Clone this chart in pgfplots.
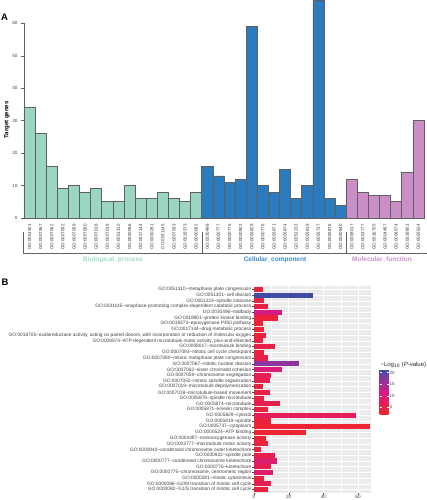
\documentclass[border=0pt]{standalone}
\usepackage{pgfplots}
\pgfplotsset{compat=1.18}
\usepackage{fontspec}
\setmainfont{Liberation Sans}
\definecolor{bpc}{RGB}{155,214,197}
\definecolor{ccc}{RGB}{42,124,191}
\definecolor{mfc}{RGB}{202,143,198}
\definecolor{bpt}{RGB}{160,218,202}
\definecolor{cct}{RGB}{58,136,199}
\definecolor{mft}{RGB}{204,140,200}
\definecolor{edge}{RGB}{95,95,95}
\definecolor{s0}{RGB}{238,37,45}
\definecolor{s1}{RGB}{230,30,82}
\definecolor{s2}{RGB}{212,28,130}
\definecolor{s3}{RGB}{150,50,158}
\definecolor{s4}{RGB}{58,78,166}
\pgfplotsset{colormap={pval}{rgb255=(238,37,45) rgb255=(230,30,82) rgb255=(212,28,130) rgb255=(150,50,158) rgb255=(58,78,166)}}
\newcommand{\tf}[1]{\fontsize{#1}{#1}\selectfont}
\newcommand{\T}{\textasciitilde}
\newcommand{\pbar}[3]{%
  \pgfmathsetmacro{\tv}{max(0,min(0.9999,(#3-1.7)/19.9))*4}%
  \pgfmathtruncatemacro{\sg}{floor(\tv)}%
  \pgfmathsetmacro{\fr}{(\tv-\sg)*100}%
  \pgfmathtruncatemacro{\sgn}{\sg+1}%
  \colorlet{bc#1}{s\sgn!\fr!s\sg}%
  \addplot[xbar, bar shift=0pt, bar width=0.9, draw=none, fill=bc#1] coordinates {(#2,#1)};}
\begin{document}
\begin{tikzpicture}
\path[use as bounding box] (0,0) rectangle (427pt,500pt);
% ---------------- Panel A ----------------
\begin{axis}[
  at={(24pt,282pt)}, anchor=south west,
  scale only axis, width=400pt, height=218pt,
  xmin=-0.5, xmax=35.5, ymin=0, ymax=67.2,
  clip=false,
  axis line style={draw=none},
  ytick={0,10,...,60}, ytick pos=left, tick align=outside,
  major tick length=3pt,
  y tick style={draw=edge, line width=0.5pt},
  yticklabel style={font=\tf{4.6}, text=black!75},
  xtick={0,...,35}, x tick style={draw=none}, xtick pos=left,
  xticklabels={GO:0051301,GO:0007067,GO:0007062,GO:0007052,GO:0007059,GO:0007080,GO:0007018,GO:0007019,GO:0051310,GO:0000086,GO:0017144,GO:0000281,GO:0031145,GO:0007093,GO:0019373,GO:0000082,
  GO:0030496,GO:0000777,GO:0000775,GO:0000922,GO:0005829,GO:0000776,GO:0005871,GO:0005874,GO:0051233,GO:0005819,GO:0005737,GO:0005876,GO:0000940,
  GO:0008017,GO:0003777,GO:0016705,GO:0004497,GO:0008574,GO:0019901,GO:0005524},
  xticklabel style={rotate=90, anchor=east, font=\tf{4.4}, text=black!80},
  /pgf/number format/assume math mode=true,
]
\addplot[ybar, bar width=1, bar shift=0pt, fill=bpc, draw=edge, line width=0.6pt] coordinates {
(0,34) (1,26) (2,16) (3,9) (4,10) (5,8) (6,9) (7,5) (8,5) (9,10) (10,6) (11,6) (12,8) (13,6) (14,5) (15,8)};
\addplot[ybar, bar width=1, bar shift=0pt, fill=ccc, draw=edge, line width=0.6pt] coordinates {
(16,16) (17,13) (18,11) (19,12) (20,59) (21,10) (22,8) (23,15) (24,6) (25,10) (26,67) (27,6) (28,4)};
\addplot[ybar, bar width=1, bar shift=0pt, fill=mfc, draw=edge, line width=0.6pt] coordinates {
(29,12) (30,8) (31,7) (32,7) (33,5) (34,14) (35,30)};
\draw[edge, line width=0.6pt] (axis cs:-0.5,0) -- (axis cs:-0.5,60);
\end{axis}
% group brackets
\draw[edge, line width=0.6pt] (23.5pt,268pt) -- (23.5pt,247pt) -- (427pt,247pt);
\draw[edge, line width=0.6pt] (202pt,268pt) -- (202pt,247pt);
\draw[edge, line width=0.6pt] (346.5pt,268pt) -- (346.5pt,247pt);
\node[font=\bfseries\tf{6.5}, text=bpt] at (113pt,240pt) {Biological\_process};
\node[font=\bfseries\tf{6.5}, text=cct] at (275pt,240pt) {Cellular\_component};
\node[font=\bfseries\tf{6.5}, text=mft] at (382pt,240pt) {Molecular\_function};
\node[rotate=90, font=\bfseries\tf{6}] at (7pt,380pt) {Target genes};
\node[font=\bfseries\tf{9.5}] at (4.5pt,482.5pt) {A};
\node[font=\bfseries\tf{9.5}] at (5pt,218pt) {B};
% ---------------- Panel B ----------------
\begin{axis}[
  at={(312.5pt,110.5pt)}, anchor=center,
  scale only axis, width=117pt, height=207pt,
  xmin=0, xmax=67.5, ymin=0.4, ymax=36.6, y dir=reverse,
  axis background/.style={fill=black!8},
  axis line style={draw=none},
  xtick={0,20,40,60}, minor xtick={10,30,50},
  ytick={1,...,36},
  yticklabels={
  {GO:0051310\T metaphase plate congression},
  {GO:0051301\T cell division},
  {GO:0051233\T spindle midzone},
  {GO:0031145\T anaphase-promoting complex-dependent catabolic process},
  {GO:0030496\T midbody},
  {GO:0019901\T protein kinase binding},
  {GO:0019373\T epoxygenase P450 pathway},
  {GO:0017144\T drug metabolic process},
  {GO:0016705\T oxidoreductase activity, acting on paired donors, with incorporation or reduction of molecular oxygen},
  {GO:0008574\T ATP-dependent microtubule motor activity, plus-end-directed},
  {GO:0008017\T microtubule binding},
  {GO:0007093\T mitotic cell cycle checkpoint},
  {GO:0007080\T mitotic metaphase plate congression},
  {GO:0007067\T mitotic nuclear division},
  {GO:0007062\T sister chromatid cohesion},
  {GO:0007059\T chromosome segregation},
  {GO:0007052\T mitotic spindle organization},
  {GO:0007019\T microtubule depolymerization},
  {GO:0007018\T microtubule-based movement},
  {GO:0005876\T spindle microtubule},
  {GO:0005874\T microtubule},
  {GO:0005871\T kinesin complex},
  {GO:0005829\T cytosol},
  {GO:0005819\T spindle},
  {GO:0005737\T cytoplasm},
  {GO:0005524\T ATP binding},
  {GO:0004497\T monooxygenase activity},
  {GO:0003777\T microtubule motor activity},
  {GO:0000940\T condensed chromosome outer kinetochore},
  {GO:0000922\T spindle pole},
  {GO:0000777\T condensed chromosome kinetochore},
  {GO:0000776\T kinetochore},
  {GO:0000775\T chromosome, centromeric region},
  {GO:0000281\T mitotic cytokinesis},
  {GO:0000086\T G2/M transition of mitotic cell cycle},
  {GO:0000082\T G1/S transition of mitotic cell cycle}},
  xmajorgrids, xminorgrids, ymajorgrids,
  major grid style={white, line width=0.5pt},
  minor grid style={white, line width=0.25pt},
  tick align=outside, major tick length=1.5pt, minor tick length=0pt,
  tick style={black!70, line width=0.3pt},
  xtick pos=left, ytick pos=left,
  yticklabel style={font=\tf{4.8}, text=black!75, inner sep=1pt},
  xticklabel style={font=\tf{4.6}, text=black!75, inner sep=1pt},
  colormap name=pval, point meta min=1.7, point meta max=21.6,
  colorbar,
  colorbar style={
    at={(parent axis.east)}, anchor=west, yshift=-2.5pt,
    scale only axis, width=9pt, height=46pt,
    ytick={5,10,15,20},
    axis line style={draw=none},
    tick align=inside, major tick length=2pt,
    tick style={white, line width=0.4pt},
    yticklabel style={font=\tf{4.5}, text=black!75, inner sep=1pt},
    /pgf/number format/assume math mode=true,
  },
  /pgf/number format/assume math mode=true,
]
\pbar{1}{5}{4.0}
\pbar{2}{34}{21.3}
\pbar{3}{6}{4.5}
\pbar{4}{8}{5.0}
\pbar{5}{16}{11.5}
\pbar{6}{14}{3.5}
\pbar{7}{5}{3.0}
\pbar{8}{6}{3.0}
\pbar{9}{7}{3.0}
\pbar{10}{5}{4.0}
\pbar{11}{12}{5.0}
\pbar{12}{6}{4.0}
\pbar{13}{8}{5.5}
\pbar{14}{26}{17.0}
\pbar{15}{16}{10.5}
\pbar{16}{10}{7.0}
\pbar{17}{9}{6.0}
\pbar{18}{5}{4.0}
\pbar{19}{9}{5.0}
\pbar{20}{6}{4.5}
\pbar{21}{15}{6.0}
\pbar{22}{8}{4.0}
\pbar{23}{59}{7.5}
\pbar{24}{10}{4.0}
\pbar{25}{67}{2.5}
\pbar{26}{30}{2.5}
\pbar{27}{7}{3.0}
\pbar{28}{8}{4.0}
\pbar{29}{4}{3.5}
\pbar{30}{12}{6.0}
\pbar{31}{13}{9.5}
\pbar{32}{10}{7.0}
\pbar{33}{11}{9.0}
\pbar{34}{6}{4.0}
\pbar{35}{10}{6.5}
\pbar{36}{8}{4.0}
\end{axis}
\node[anchor=west, font=\tf{6}, text=black!85] at (377pt,135pt) {−Log\textsubscript{10} (\textit{P}-value)};
\end{tikzpicture}
\end{document}
